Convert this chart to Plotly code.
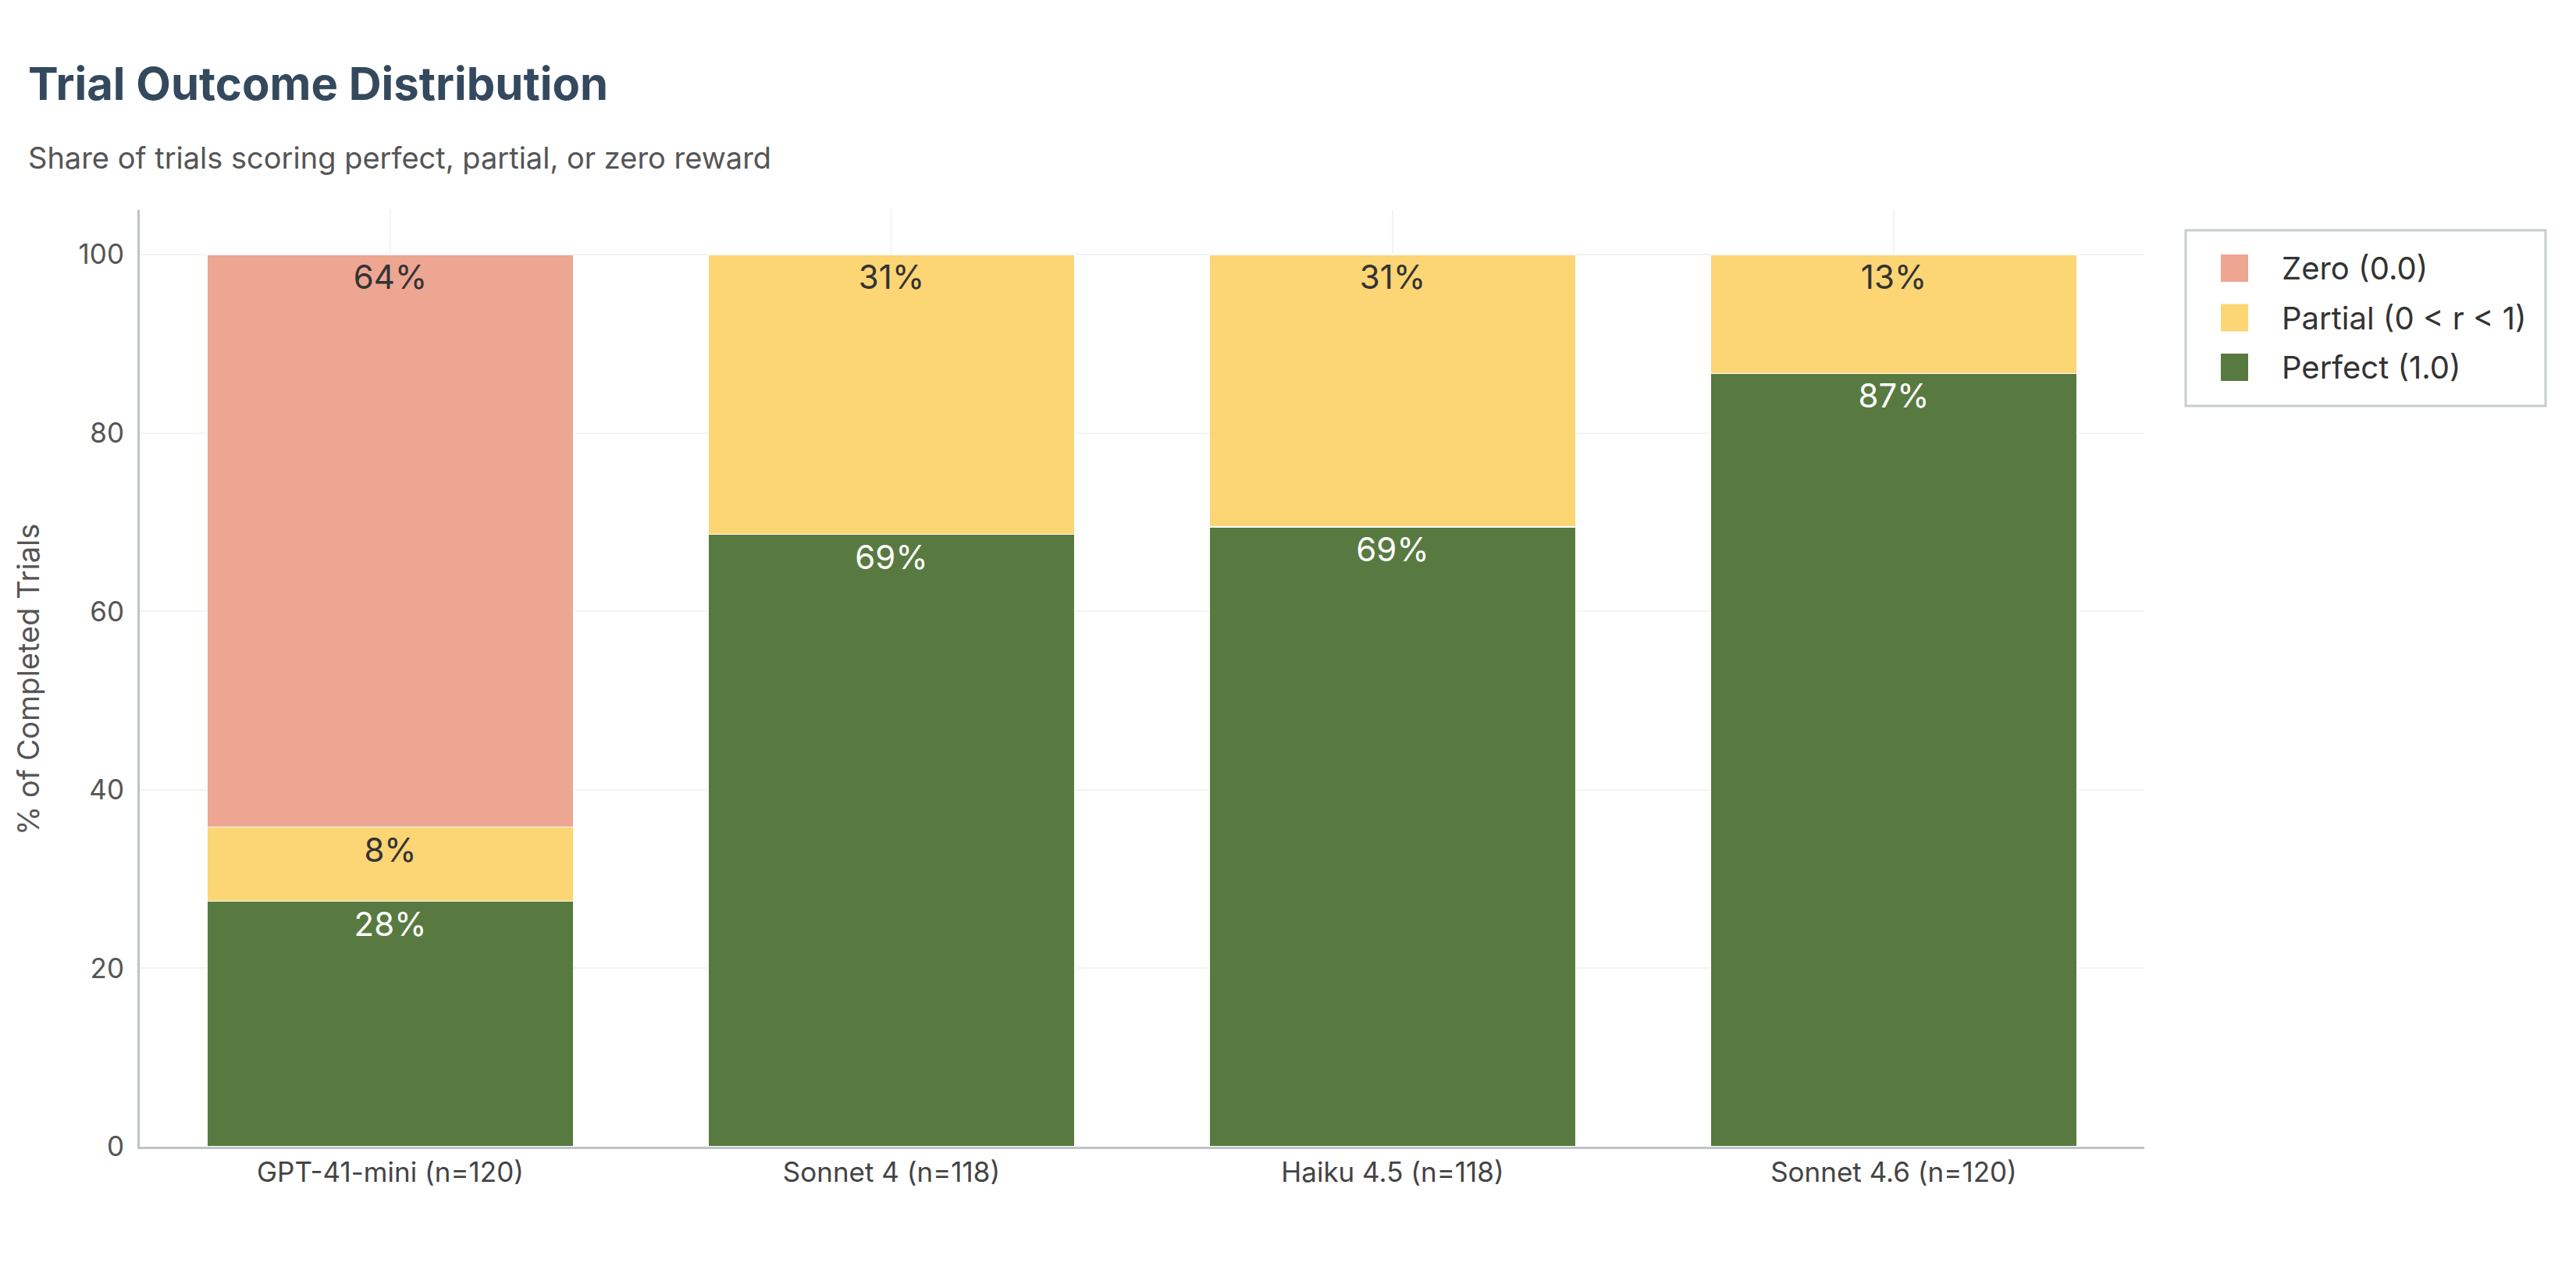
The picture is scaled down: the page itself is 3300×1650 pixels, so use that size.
import plotly.graph_objects as go

models = ["GPT-41-mini (n=120)", "Sonnet 4 (n=118)", "Haiku 4.5 (n=118)", "Sonnet 4.6 (n=120)"]
perfect = [27.50, 68.64, 69.49, 86.67]
partial = [8.33, 31.36, 30.51, 13.33]
zero = [64.17, None, None, None]

series_names = ["Perfect (1.0)", "Partial (0 < r < 1)", "Zero (0.0)"]
series_colors = ["#587A40", "#FCD574", "#EDA692"]
text_colors = ["white", "#333333", "#333333"]
y_ticks = [0, 20, 40, 60, 80, 100]

title_text = "Trial Outcome Distribution"
subtitle_text = "Share of trials scoring perfect, partial, or zero reward"
y_title = "% of Completed Trials"

FONT = "Inter, Liberation Sans, Arial, sans-serif"

# page offset (default body margin of the html page)
OFF = 8
# plot area in screen pixels
PL, PR, PT, PB = 179, 2747, 269, 1469
FW, FH = 3300 - OFF, 1650 - OFF


def px(x):
    return (x - PL) / (PR - PL)


def py(y):
    return (PB - y) / (PB - PT)


def labels(vals):
    return [("" if v is None else f"{v:.0f}%") for v in vals]


fig = go.Figure()
for name, vals, col, tcol in zip(series_names, [perfect, partial, zero], series_colors, text_colors):
    fig.add_trace(go.Bar(
        x=models, y=vals, name=name,
        marker=dict(color=col, line=dict(color="white", width=1.5)),
        text=labels(vals), textposition="inside", insidetextanchor="end",
        textangle=0, constraintext="none",
        textfont=dict(family=FONT, size=42, color=tcol),
        hoverinfo="skip", showlegend=False,
    ))

fig.update_layout(
    width=FW, height=FH,
    barmode="stack", bargap=0.27,
    paper_bgcolor="white", plot_bgcolor="white",
    margin=dict(l=PL - OFF, r=FW - (PR - OFF), t=PT - OFF, b=FH - (PB - OFF), autoexpand=False),
    font=dict(family=FONT, size=36, color="#444444"),
    showlegend=False,
    uniformtext=dict(minsize=8, mode="show"),
)

fig.update_xaxes(
    showline=True, linecolor="#bdc3c7", linewidth=3,
    showgrid=True, gridcolor="#f2f4f4", gridwidth=2,
    ticks="", tickfont=dict(family=FONT, size=35, color="#444444"),
)
fig.update_yaxes(
    range=[0, 105], tickvals=y_ticks, ticktext=[str(t) for t in y_ticks],
    showline=True, linecolor="#bdc3c7", linewidth=3,
    showgrid=True, gridcolor="#f2f4f4", gridwidth=2,
    zeroline=False, ticks="", ticklabelstandoff=10,
    tickfont=dict(family=FONT, size=35, color="#555555"),
)

# y-axis title
fig.add_annotation(
    text=y_title, xref="paper", yref="paper", textangle=-90,
    x=px(36), y=py(871), xanchor="center", yanchor="middle", showarrow=False,
    font=dict(family=FONT, size=38, color="#555555"),
)

# title and subtitle
fig.add_annotation(
    text=title_text, xref="paper", yref="paper",
    x=px(34), y=py(107), xanchor="left", yanchor="middle", showarrow=False,
    font=dict(family=FONT, size=58, color="#34495e", weight=700),
)
fig.add_annotation(
    text=subtitle_text, xref="paper", yref="paper",
    x=px(34), y=py(202), xanchor="left", yanchor="middle", showarrow=False,
    font=dict(family=FONT, size=38, color="#555555"),
)

# legend drawn as shapes + annotations (Zero, Partial, Perfect from top)
fig.add_shape(type="rect", xref="paper", yref="paper",
              x0=px(2800), x1=px(3261), y0=py(295), y1=py(520),
              line=dict(color="#c5cdcd", width=3), fillcolor="white", layer="above")
leg_rows = [343.5, 407, 470.5]
for (name, col), yc in zip(list(zip(series_names, series_colors))[::-1], leg_rows):
    fig.add_shape(type="rect", xref="paper", yref="paper",
                  x0=px(2845), x1=px(2880), y0=py(yc - 17.5), y1=py(yc + 17.5),
                  line=dict(width=0), fillcolor=col, layer="above")
    fig.add_annotation(text=name, xref="paper", yref="paper",
                       x=px(2921), y=py(yc), xanchor="left", yanchor="middle",
                       showarrow=False,
                       font=dict(family=FONT, size=40, color="#333333"))

fig.write_html("out.html")
